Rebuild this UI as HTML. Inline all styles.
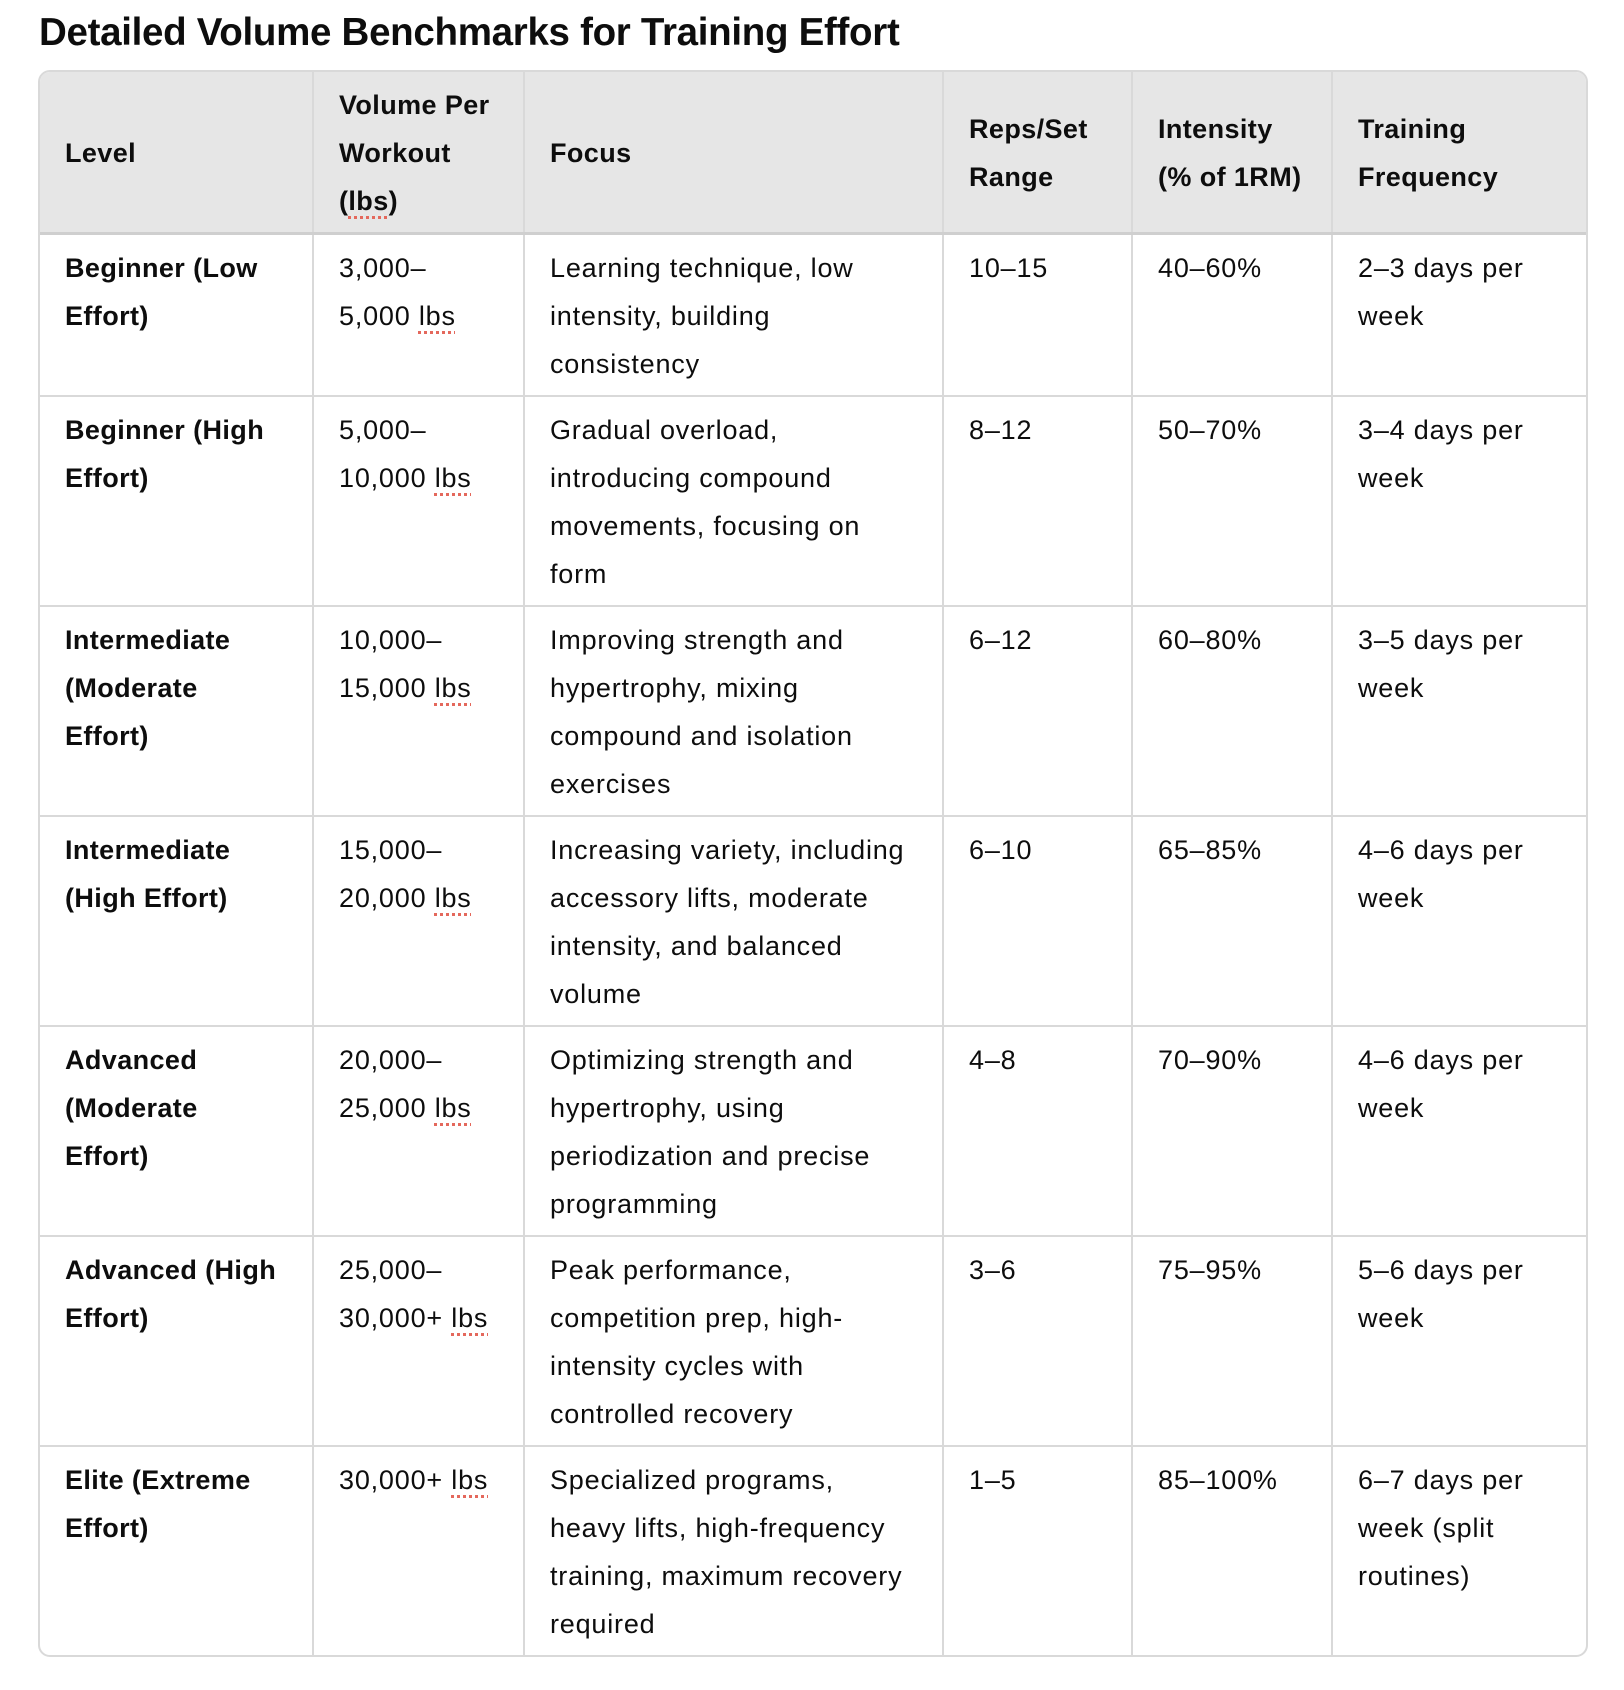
<!DOCTYPE html>
<html><head><meta charset="utf-8"><style>
body{margin:0;background:#fff;width:1624px;height:1690px;font-family:"Liberation Sans",Arial,sans-serif;color:#0d0d0d;position:relative}
h1{position:absolute;left:39px;top:8px;margin:0;font-size:38.5px;font-weight:700;letter-spacing:-0.3px;line-height:50px}
.wrap{position:absolute;left:38px;top:70px;width:1546px;border:2px solid #d9d9d9;border-radius:12px;overflow:hidden}
table{border-collapse:collapse;width:100%;table-layout:fixed;font-size:27px;line-height:48px;letter-spacing:0.8px}
th,td{border-left:2px solid #d9d9d9;border-top:2px solid #d9d9d9;padding:9px 10px 7px 25px;text-align:left;vertical-align:top;white-space:nowrap}
tr>*:first-child{border-left:none}
thead th{background:#e6e6e6;font-weight:700;vertical-align:middle;border-top:none;border-bottom:3px solid #cfcfcf;letter-spacing:0.4px}
td:first-child{font-weight:700;letter-spacing:0.4px}
u{text-decoration:underline dotted #e4685c;text-decoration-thickness:3px;text-underline-offset:6px}
</style></head><body>
<h1>Detailed Volume Benchmarks for Training Effort</h1>
<div class="wrap">
<table>
<colgroup><col style="width:273px"><col style="width:211px"><col style="width:419px"><col style="width:189px"><col style="width:200px"><col></colgroup>
<thead><tr>
<th>Level</th>
<th>Volume Per<br>Workout<br>(<u>lbs</u>)</th>
<th>Focus</th>
<th>Reps/Set<br>Range</th>
<th>Intensity<br>(% of 1RM)</th>
<th>Training<br>Frequency</th>
</tr></thead>
<tbody>
<tr><td>Beginner (Low<br>Effort)</td><td>3,000–<br>5,000 <u>lbs</u></td><td>Learning technique, low<br>intensity, building<br>consistency</td><td>10–15</td><td>40–60%</td><td>2–3 days per<br>week</td></tr>
<tr><td>Beginner (High<br>Effort)</td><td>5,000–<br>10,000 <u>lbs</u></td><td>Gradual overload,<br>introducing compound<br>movements, focusing on<br>form</td><td>8–12</td><td>50–70%</td><td>3–4 days per<br>week</td></tr>
<tr><td>Intermediate<br>(Moderate<br>Effort)</td><td>10,000–<br>15,000 <u>lbs</u></td><td>Improving strength and<br>hypertrophy, mixing<br>compound and isolation<br>exercises</td><td>6–12</td><td>60–80%</td><td>3–5 days per<br>week</td></tr>
<tr><td>Intermediate<br>(High Effort)</td><td>15,000–<br>20,000 <u>lbs</u></td><td>Increasing variety, including<br>accessory lifts, moderate<br>intensity, and balanced<br>volume</td><td>6–10</td><td>65–85%</td><td>4–6 days per<br>week</td></tr>
<tr><td>Advanced<br>(Moderate<br>Effort)</td><td>20,000–<br>25,000 <u>lbs</u></td><td>Optimizing strength and<br>hypertrophy, using<br>periodization and precise<br>programming</td><td>4–8</td><td>70–90%</td><td>4–6 days per<br>week</td></tr>
<tr><td>Advanced (High<br>Effort)</td><td>25,000–<br>30,000+ <u>lbs</u></td><td>Peak performance,<br>competition prep, high-<br>intensity cycles with<br>controlled recovery</td><td>3–6</td><td>75–95%</td><td>5–6 days per<br>week</td></tr>
<tr><td>Elite (Extreme<br>Effort)</td><td>30,000+ <u>lbs</u></td><td>Specialized programs,<br>heavy lifts, high-frequency<br>training, maximum recovery<br>required</td><td>1–5</td><td>85–100%</td><td>6–7 days per<br>week (split<br>routines)</td></tr>
</tbody></table></div>
</body></html>
